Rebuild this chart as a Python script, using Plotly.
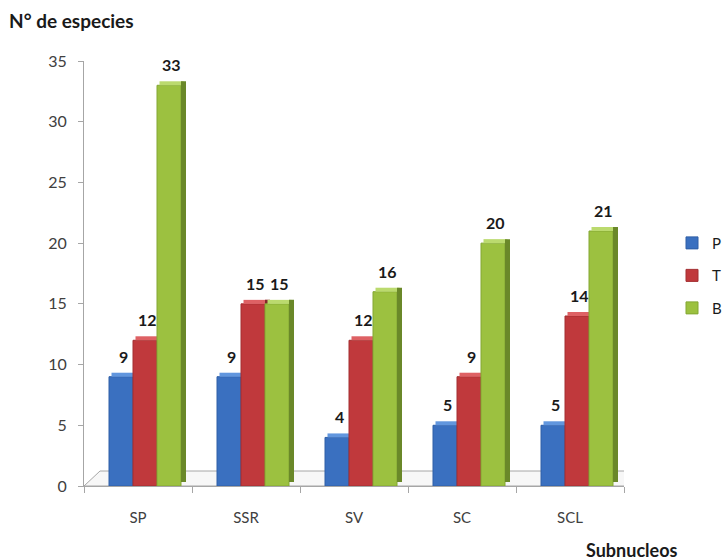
import plotly.graph_objects as go

# Number of species per subnucleus, by group
categories = ["SP", "SSR", "SV", "SC", "SCL"]
series_names = ["P", "T", "B"]
p_values = [9, 9, 4, 5, 5]
t_values = [12, 15, 12, 9, 14]
b_values = [33, 15, 16, 20, 21]
y_tick_values = [0, 5, 10, 15, 20, 25, 30, 35]

series_values = [p_values, t_values, b_values]

# Face colours for the pseudo-3D columns: front, top cap, right side
front_colors = ["#3A70C0", "#C0393C", "#9CC140"]
edge_colors = ["#2E5EA6", "#A32E31", "#83A733"]
cap_colors = ["#6196DE", "#DE6164", "#BBDA6E"]
side_colors = ["#264D85", "#84272A", "#6A8829"]

FONT = "Lato, 'Open Sans', sans-serif"

# Layout in pixels, converted to axis units below
ML, MR, MT, MB = 84, 102, 61, 74
W, H = 726, 560
plot_w = W - ML - MR
plot_h = H - MT - MB
x_range = [-0.5, 4.5]
y_range = [0, 35]
px_x = plot_w / (x_range[1] - x_range[0])
px_y = plot_h / (y_range[1] - y_range[0])

bar_w = 24 / px_x            # width of one column front face
group_start = -29 / px_x     # left edge of the first column relative to the category
depth_x = 5 / px_x           # horizontal depth of the side face
depth_y = 4 / px_y           # vertical depth of the top cap
floor_dx = 16 / px_x
floor_dy = 15 / px_y

x_pos = list(range(len(categories)))

fig = go.Figure()

for i, (name, vals) in enumerate(zip(series_names, series_values)):
    off = group_start + i * bar_w
    # front face
    fig.add_trace(go.Bar(
        x=x_pos, y=vals, name=name, offset=off, width=bar_w,
        marker=dict(color=front_colors[i], line=dict(color=edge_colors[i], width=1)),
        legendgroup=name, showlegend=True, hoverinfo="skip",
    ))
    # top cap
    fig.add_trace(go.Bar(
        x=x_pos, y=[depth_y] * len(vals), base=vals,
        offset=off + depth_x / 2, width=bar_w,
        marker=dict(color=cap_colors[i], line=dict(width=0)),
        legendgroup=name, showlegend=False, hoverinfo="skip",
    ))
    # right side face
    fig.add_trace(go.Bar(
        x=x_pos, y=vals, base=[depth_y] * len(vals),
        offset=off + bar_w, width=depth_x,
        marker=dict(color=side_colors[i], line=dict(width=0)),
        legendgroup=name, showlegend=False, hoverinfo="skip",
    ))
    # value labels above each column
    for xc, v in zip(x_pos, vals):
        fig.add_annotation(
            x=xc + off + (bar_w + depth_x) / 2, y=v + depth_y,
            xref="x", yref="y", text=f"<b>{v}</b>", showarrow=False,
            xanchor="center", yanchor="bottom", yshift=5,
            font=dict(family=FONT, size=16, color="#1a1a1a"),
        )

# floor of the chart
x0, x1 = x_range
floor_path = (f"M {x0},0 L {x1},0 L {x1 + floor_dx},{floor_dy} "
              f"L {x0 + floor_dx},{floor_dy} Z")
fig.add_shape(type="path", path=floor_path, xref="x", yref="y",
              fillcolor="#F7F7F7", line=dict(color="#A6A6A6", width=1),
              layer="below")

fig.add_annotation(text="<b>Subnucleos</b>", xref="paper", yref="paper",
                   x=(584 - ML) / plot_w, y=-(550 - (H - MB)) / plot_h,
                   xanchor="left", yanchor="middle", showarrow=False,
                   font=dict(family=FONT, size=18, color="#1a1a1a"))

fig.update_layout(
    width=W, height=H,
    margin=dict(l=ML, r=MR, t=MT, b=MB, autoexpand=False),
    paper_bgcolor="white", plot_bgcolor="white",
    barmode="overlay",
    title=dict(text="<b>N° de especies</b>", x=9 / W, xanchor="left",
               y=1 - 21 / H, yanchor="middle",
               font=dict(family=FONT, size=19, color="#1a1a1a")),
    font=dict(family=FONT, size=14, color="#404040"),
    legend=dict(x=(672 - ML) / plot_w, xanchor="left", y=0.495, yanchor="middle",
                font=dict(family=FONT, size=15, color="#1a1a1a"),
                itemwidth=30, tracegroupgap=10, bgcolor="rgba(0,0,0,0)"),
    xaxis=dict(range=x_range, tickvals=x_pos, ticktext=categories,
               showgrid=False, zeroline=False, showline=True,
               linecolor="#A6A6A6", linewidth=1,
               ticks="outside", ticklen=18, tickcolor="rgba(0,0,0,0)",
               minor=dict(tickvals=[x0 + k for k in range(len(categories) + 1)],
                          ticks="outside", ticklen=6, tickcolor="#A6A6A6",
                          showgrid=False),
               tickfont=dict(family=FONT, size=15, color="#404040"),
               fixedrange=True),
    yaxis=dict(range=y_range, tickvals=y_tick_values,
               showgrid=False, zeroline=False, showline=True,
               linecolor="#A6A6A6", linewidth=1,
               ticks="outside", ticklen=5, tickcolor="#A6A6A6",
               ticklabelstandoff=8,
               tickfont=dict(family=FONT, size=16, color="#404040"),
               fixedrange=True),
)

fig.write_html("out.html")
